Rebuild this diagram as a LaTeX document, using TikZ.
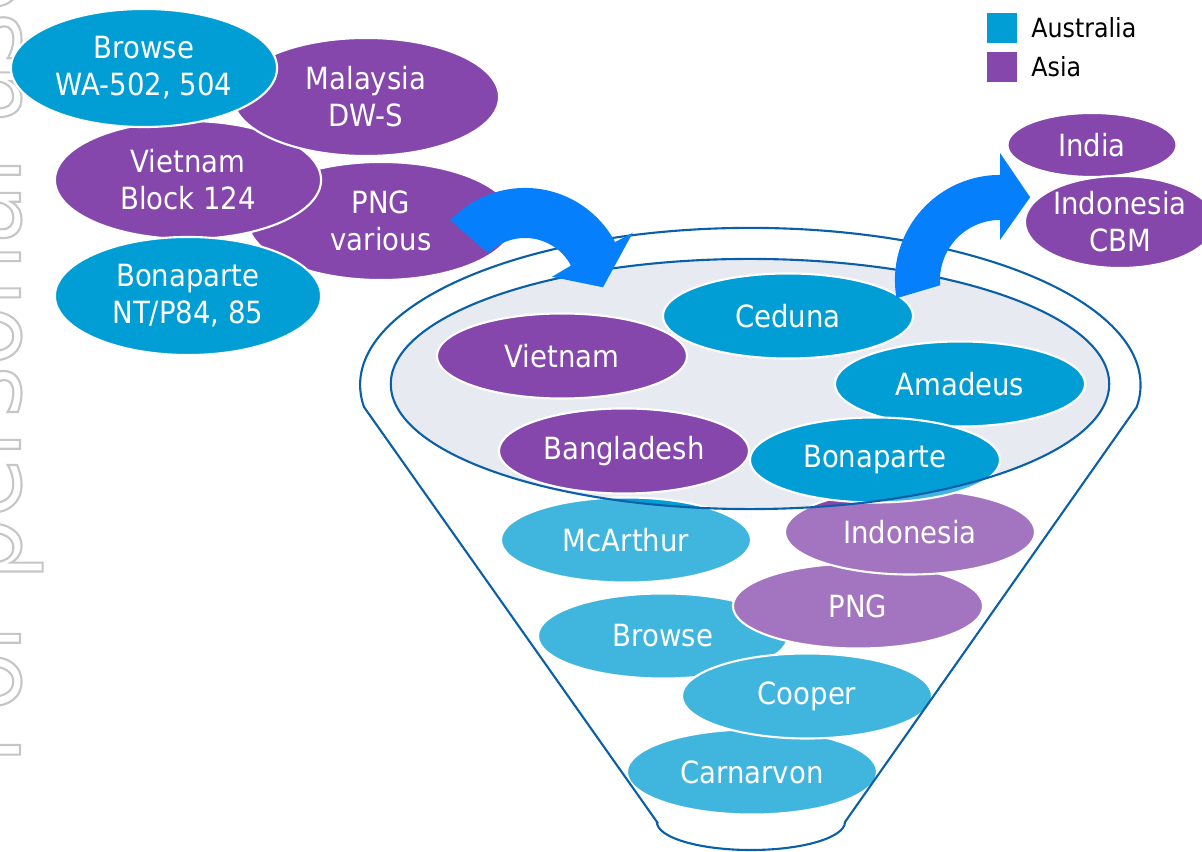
\documentclass[tikz,border=0pt]{standalone}
\usepackage{fontspec}
\setmainfont{DejaVu Sans Condensed}
\usepackage{xcolor}
\usepackage{tikz}
\usetikzlibrary{shapes.geometric,positioning}

\definecolor{ausblue}{RGB}{0,158,213}
\definecolor{asiapurple}{RGB}{133,71,171}
\definecolor{funnelline}{RGB}{10,96,168}
\definecolor{funnelfill}{RGB}{231,234,241}
\definecolor{arrowblue}{RGB}{5,127,252}
\newcommand{\hollowtext}[1]{\special{pdf:literal direct 1 Tr 0.6 w}#1\special{pdf:literal direct 0 Tr}}

\begin{document}
\begin{tikzpicture}[x=0.01cm,y=-0.01cm,
	field/.style={ellipse, draw=white, line width=0.6pt, inner sep=0pt, text=white, align=center, font=\fontsize{8.7}{10.5}\selectfont},
	bigfield/.style={field, minimum width=2.66cm, minimum height=1.18cm},
	smallfield/.style={field, minimum width=2.5cm, minimum height=0.85cm},
	aus/.style={fill=ausblue}, asia/.style={fill=asiapurple},
	flowarrow/.style={fill=arrowblue, draw=none},
	rim/.style={draw=funnelline, line width=0.6pt}]
		\useasboundingbox (0,0) rectangle (1202,852);

		% watermark
		\node[rotate=90, anchor=base west, inner sep=0pt, text=gray!45, font=\fontsize{31}{31}\selectfont] (mark) at (20,765) {\hollowtext{For personal use}};

		% prospects still open
		\node[bigfield, asia] (png1) at (381,221) {PNG\\various};
		\node[bigfield, asia] (viet1) at (188,180) {Vietnam\\Block 124};
		\node[bigfield, aus] (bona1) at (188,296) {Bonaparte\\NT/P84, 85};
		\node[bigfield, asia] (malay) at (366,97) {Malaysia\\DW-S};
		\node[bigfield, aus] (brow1) at (144,68) {Browse\\WA-502, 504};

		\node[field, asia, minimum width=1.69cm, minimum height=0.64cm] (india) at (1092,145) {India};
		\node[field, asia, minimum width=1.9cm, minimum height=0.92cm] (indo1) at (1120,222) {Indonesia\\CBM};

		% funnel
		\fill[funnelfill] (750,384) ellipse [x radius=3.59cm, y radius=1.25cm];

		\node[smallfield, aus] (carn) at (752,772) {Carnarvon};
		\node[smallfield, aus] (brow2) at (663,636) {Browse};
		\node[smallfield, aus] (coop) at (807,696) {Cooper};
		\node[smallfield, asia] (png2) at (858,606) {PNG};
		\node[smallfield, asia] (indo2) at (910,532) {Indonesia};
		\node[smallfield, aus] (mcar) at (626,540) {McArthur};
		\node[smallfield, aus] (cedu) at (788,316) {Ceduna};
		\node[smallfield, asia] (viet2) at (562,356) {Vietnam};
		\node[smallfield, aus] (amad) at (960,384) {Amadeus};
		\node[smallfield, aus] (bona2) at (875,460) {Bonaparte};
		\node[smallfield, asia] (bang) at (624,451) {Bangladesh};

		\fill[white, opacity=0.25, even odd rule] (657,822) -- (364,407) arc[start angle=188.06, end angle=-8.06, x radius=3.9cm, y radius=1.57cm] -- (845,822) arc[start angle=0, end angle=-180, x radius=0.94cm, y radius=0.28cm] -- cycle
			(750,384) ellipse [x radius=3.59cm, y radius=1.25cm];

		\draw[rim] (750,384) ellipse [x radius=3.59cm, y radius=1.25cm];
		\draw[rim] (657,822) -- (364,407) arc[start angle=188.06, end angle=-8.06, x radius=3.9cm, y radius=1.57cm] -- (845,822) arc[start angle=0, end angle=-180, x radius=0.94cm, y radius=0.28cm] -- cycle;

		% arrows in and out
		\begin{scope}[shift={(525,290)}]
			\fill[flowarrow] (137:1.02cm) arc[start angle=137, end angle=28, radius=1.02cm] -- (28:1.22cm) -- (2:0.78cm) -- (26:0.3cm) -- (28:0.52cm) arc[start angle=28, end angle=135, radius=0.52cm] -- cycle;
		\end{scope}
		\begin{scope}[shift={(1000,280)}]
			\fill[flowarrow] (190:1.05cm) arc[start angle=190, end angle=90, radius=1.05cm] -- (90:1.27cm) -- (70:0.88cm) -- (90:0.4cm) -- (90:0.6cm) arc[start angle=90, end angle=185, radius=0.6cm] -- cycle;
		\end{scope}

		% legend
		\node[fill=ausblue, minimum size=0.3cm, inner sep=0pt] (keyaus) at (1002,28) {};
		\node[fill=asiapurple, minimum size=0.3cm, inner sep=0pt] (keyasia) at (1002,67) {};
		\node[right=0.13cm of keyaus, inner sep=0pt, font=\fontsize{7.5}{9}\selectfont] (labaus) {Australia};
		\node[right=0.13cm of keyasia, inner sep=0pt, font=\fontsize{7.5}{9}\selectfont] (labasia) {Asia};

	\end{tikzpicture}
\end{document}
